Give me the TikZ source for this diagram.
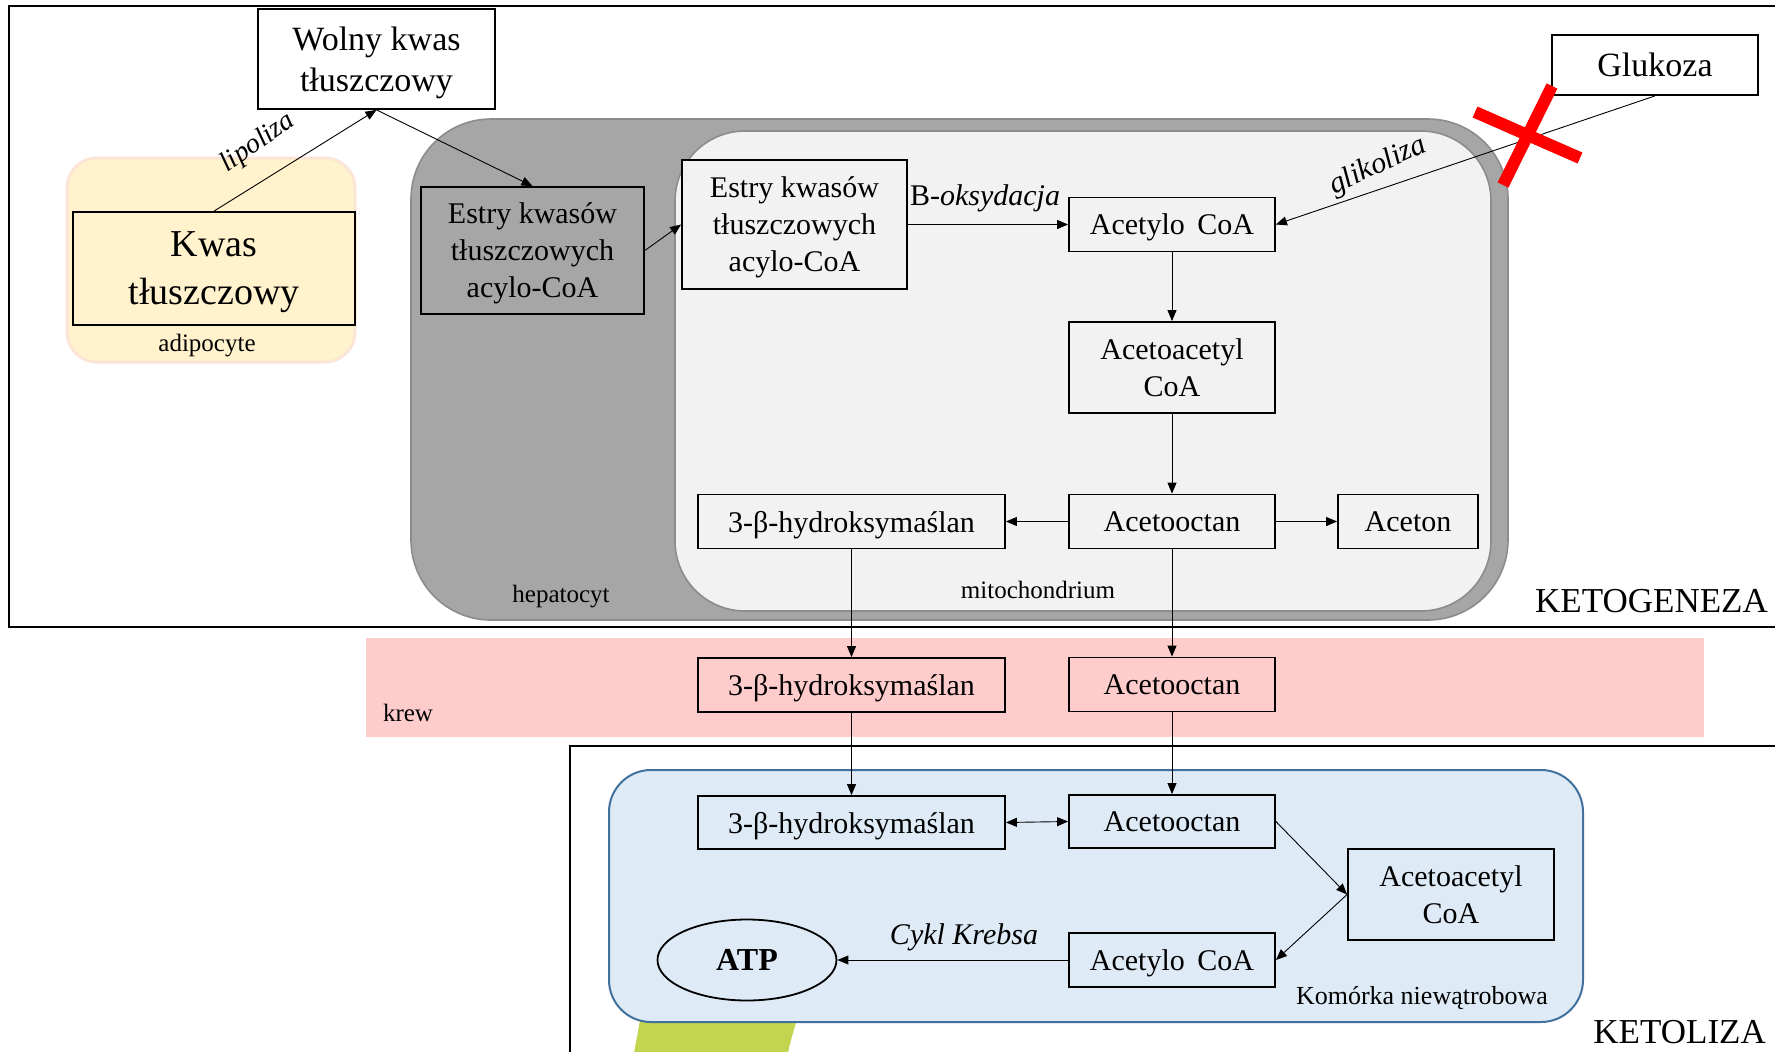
\documentclass[tikz,border=0pt]{standalone}
\usepackage{fontspec}
\setmainfont{Liberation Serif}
\usetikzlibrary{arrows.meta,shapes.geometric}
\definecolor{hepfill}{HTML}{A6A6A6}
\definecolor{hepdraw}{HTML}{8C8C8C}
\definecolor{mitofill}{HTML}{F2F2F2}
\definecolor{adifill}{HTML}{FFF2CC}
\definecolor{adidraw}{HTML}{FBE5D6}
\definecolor{krewfill}{HTML}{FFCCCC}
\definecolor{cellfill}{HTML}{DEEBF7}
\definecolor{celldraw}{HTML}{41719C}
\definecolor{greenblob}{RGB}{195,212,78}
\definecolor{xred}{HTML}{FF0000}
\tikzset{
  box/.style={draw=black, line width=1.8pt, align=center, inner sep=0pt, text depth=0pt,
    font=\fontsize{30}{37}\selectfont},
  arr/.style={line width=0.9pt, -{Triangle[length=11pt,width=9pt]}},
  darr/.style={line width=0.9pt, {Triangle[length=11pt,width=9pt]}-{Triangle[length=11pt,width=9pt]}},
  lbl/.style={inner sep=0pt, font=\fontsize{25}{30}\selectfont},
  itl/.style={inner sep=0pt, font=\fontsize{30}{36}\selectfont\itshape},
  big/.style={inner sep=0pt, font=\fontsize{35}{40}\selectfont},
}
\begin{document}
\begin{tikzpicture}[x=1pt,y=-1pt]
\useasboundingbox (0,0) rectangle (1775,1052);
\fill[white] (0,0) rectangle (1775,1052);

% frames
\draw[line width=2.6pt] (1776,6) -- (9,6) -- (9,627) -- (1776,627);
\draw[line width=2.2pt] (1776,746) -- (570,746) -- (570,1053);

% containers
\fill[krewfill] (366,638) rectangle (1704,737);
\draw[adidraw, fill=adifill, line width=3pt, rounded corners=30pt] (67,158) rectangle (355,362);
\draw[hepdraw, fill=hepfill, line width=1.6pt, rounded corners=80pt] (411,119) rectangle (1508,620);
\draw[hepdraw, fill=mitofill, line width=1.6pt, rounded corners=70pt] (675,131) rectangle (1491,611);
\fill[greenblob] (641,1015) -- (798,1015) .. controls (794,1030) and (790,1042) .. (788,1053) -- (634,1053) -- cycle;
\draw[celldraw, fill=cellfill, line width=2pt, rounded corners=42pt] (609,770) rectangle (1583,1022);

% nodes: ketogeneza
\node[box, fill=white, minimum width=237pt, minimum height=100pt, font=\fontsize{34}{41}\selectfont] (wolny) at (376.5,59) {Wolny kwas\\tłuszczowy};
\node[box, fill=adifill, minimum width=282pt, minimum height=113pt, font=\fontsize{38}{48}\selectfont] (kwas) at (214,268.5) {Kwas\\tłuszczowy};
\node[box, fill=hepfill, minimum width=223pt, minimum height=127pt] (estry1) at (532.5,250.5) {Estry kwasów\\tłuszczowych\\acylo-CoA};
\node[box, fill=mitofill, minimum width=225pt, minimum height=129pt] (estry2) at (794.5,224.5) {Estry kwasów\\tłuszczowych\\acylo-CoA};
\node[box, fill=mitofill, minimum width=206pt, minimum height=54pt] (acetyl1) at (1172,224.5) {Acetylo\, CoA};
\node[box, fill=white, minimum width=206pt, minimum height=60pt, font=\fontsize{34}{41}\selectfont] (glukoza) at (1655,65) {Glukoza};
\node[box, fill=mitofill, minimum width=206pt, minimum height=91pt] (acac1) at (1172,367.5) {Acetoacetyl\\CoA};
\node[box, fill=mitofill, minimum width=307pt, minimum height=54pt] (hyd1) at (851.5,521.5) {3-β-hydroksymaślan};
\node[box, fill=mitofill, minimum width=206pt, minimum height=54pt] (aco1) at (1172,521.5) {Acetooctan};
\node[box, fill=mitofill, minimum width=140pt, minimum height=54pt] (aceton) at (1408,521.5) {Aceton};

% krew
\node[box, fill=krewfill, minimum width=307pt, minimum height=54pt] (hyd2) at (851.5,685) {3-β-hydroksymaślan};
\node[box, fill=krewfill, minimum width=206pt, minimum height=54pt] (aco2) at (1172,684.5) {Acetooctan};

% ketoliza
\node[box, fill=cellfill, minimum width=307pt, minimum height=53pt] (hyd3) at (851.5,822.5) {3-β-hydroksymaślan};
\node[box, fill=cellfill, minimum width=206pt, minimum height=53pt] (aco3) at (1172,821.5) {Acetooctan};
\node[box, fill=cellfill, minimum width=206pt, minimum height=91pt] (acac3) at (1451,894.5) {Acetoacetyl\\CoA};
\node[box, fill=cellfill, minimum width=206pt, minimum height=54pt] (acetyl3) at (1172,960) {Acetylo\, CoA};
\node[ellipse, draw=black, line width=1.8pt, fill=cellfill, minimum width=179pt, minimum height=81pt, inner sep=0pt, text depth=0pt, font=\fontsize{32}{38}\selectfont\bfseries] (atp) at (747,960) {ATP};

% labels
\node[itl, rotate=35, font=\fontsize{28}{34}\selectfont\itshape] (llip) at (258,143) {lipoliza};
\node[itl, rotate=25] (lgli) at (1378,166) {glikoliza};
\node[inner sep=0pt, font=\fontsize{30}{36}\selectfont] (lbox) at (985,198) {B-\textit{oksydacja}};
\node[itl] (lkreb) at (964,937) {Cykl Krebsa};
\node[lbl] (ladi) at (207,346) {adipocyte};
\node[lbl] (lhep) at (561,597) {hepatocyt};
\node[lbl] (lmito) at (1038,590) {mitochondrium};
\node[lbl] (lkrew) at (408,713) {krew};
\node[lbl, font=\fontsize{26}{30}\selectfont] (lkom) at (1422,998) {Komórka niewątrobowa};
\node[big, anchor=east] (lketog) at (1768,601) {KETOGENEZA};
\node[big, anchor=east] (lketol) at (1766,1032) {KETOLIZA};

% connectors
\draw[arr] (kwas.north) -- (wolny.south);
\draw[arr] (wolny.south) -- (estry1.north);
\draw[arr] (estry1.east) -- (estry2.west);
\draw[arr] (estry2.east) -- (acetyl1.west);
\draw[arr] (glukoza.south) -- (acetyl1.east);
\draw[arr] (acetyl1.south) -- (acac1.north);
\draw[arr] (acac1.south) -- (aco1.north);
\draw[arr] (aco1.west) -- (hyd1.east);
\draw[arr] (aco1.east) -- (aceton.west);
\draw[arr] (hyd1.south) -- (hyd2.north);
\draw[arr] (aco1.south) -- (aco2.north);
\draw[arr] (hyd2.south) -- (hyd3.north);
\draw[arr] (aco2.south) -- (aco3.north);
\draw[darr] (hyd3.east) -- (aco3.west);
\draw[arr] (aco3.east) -- (acac3.west);
\draw[arr] (acac3.west) -- (acetyl3.east);
\draw[arr] (acetyl3.west) -- (atp.east);

% red cross
\draw[xred, line width=12pt] (1475,112) -- (1580,158);
\draw[xred, line width=12pt] (1552,86) -- (1503,185);
\end{tikzpicture}
\end{document}
